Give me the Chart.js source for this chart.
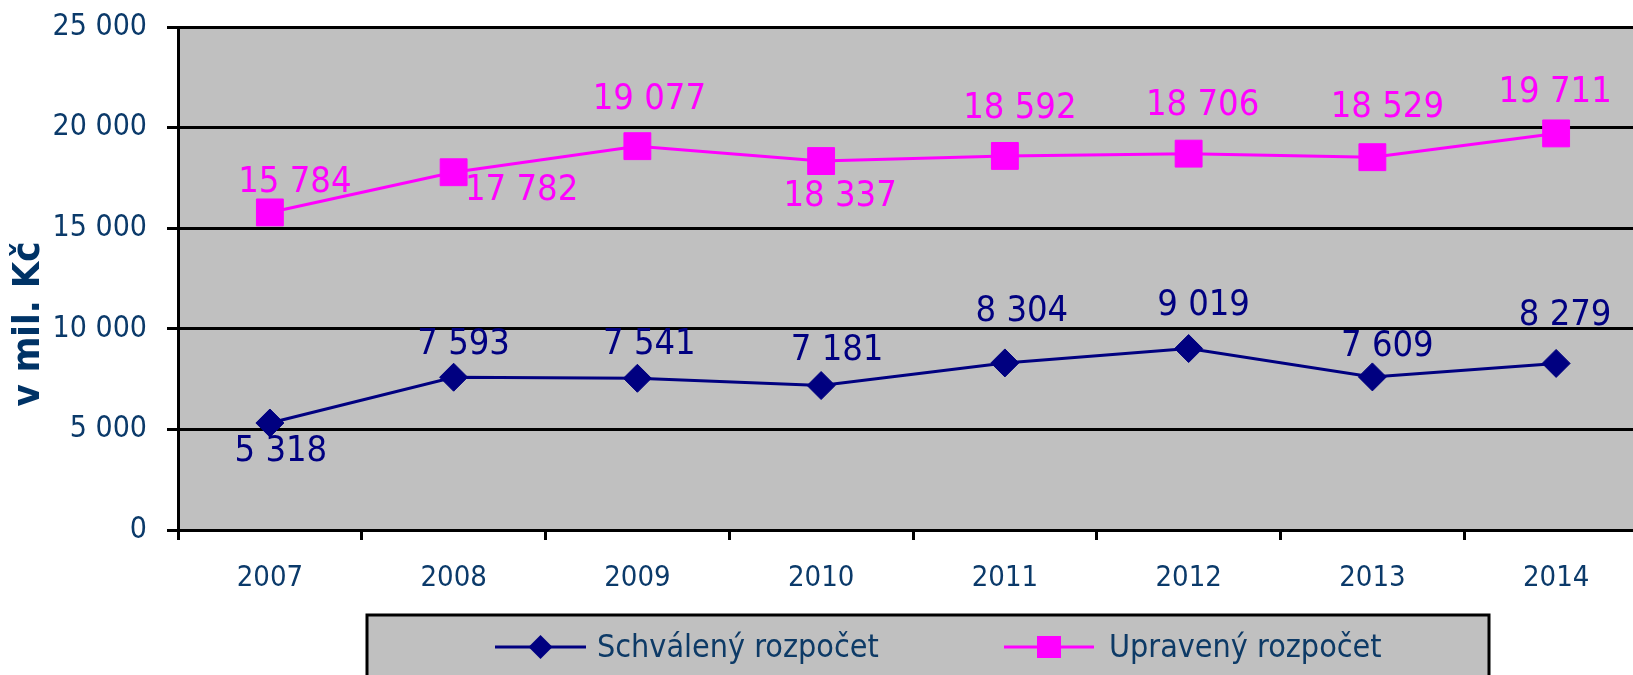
<!DOCTYPE html>
<html><head><meta charset="utf-8">
<script src="https://cdn.jsdelivr.net/npm/chart.js@4.4.1/dist/chart.umd.min.js"></script>
<style>html,body{margin:0;padding:0;overflow:hidden;background:#fff}#wrap{position:relative;width:1668px;height:675px}</style>
</head><body><div id="wrap"><canvas id="c"></canvas></div>
<script>
// ---- data ----
const years = ['2007', '2008', '2009', '2010', '2011', '2012', '2013', '2014'];
const schvaleny = [5318, 7593, 7541, 7181, 8304, 9019, 7609, 8279];
const upraveny = [15784, 17782, 19077, 18337, 18592, 18706, 18529, 19711];
const seriesNames = ['Schválený rozpočet', 'Upravený rozpočet'];
const yTicks = [0, 5000, 10000, 15000, 20000, 25000];
const axisTitle = 'v mil. Kč';

// ---- style ----
const FONT = '"DejaVu Sans Condensed", "Liberation Sans", sans-serif';
const TEXT = '#0b3a6a';
const BLUE = '#000080';
const PINK = '#FF00FF';
const labelOffsets = [
  [[11, 29], [10, -33], [12, -34], [16, -35], [17, -51], [15, -43], [15, -30], [9, -48]],
  [[25, -30], [68, 18], [12, -47], [19, 36], [15, -47], [14, -48], [15, -50], [-1, -41]]
];
const fmt = v => String(v).replace(/\B(?=(\d{3})+(?!\d))/g, ' ');

const bgPlugin = {
  id: 'bg',
  beforeDraw(chart) {
    const { ctx, chartArea: a } = chart;
    ctx.save();
    ctx.fillStyle = '#C0C0C0';
    ctx.fillRect(a.left, a.top, a.right - a.left, a.bottom - a.top);
    ctx.restore();
  }
};

const labelPlugin = {
  id: 'vals',
  afterDatasetsDraw(chart) {
    const ctx = chart.ctx;
    ctx.save();
    ctx.font = '36px ' + FONT;
    ctx.textAlign = 'center';
    ctx.textBaseline = 'middle';
    chart.data.datasets.forEach((ds, di) => {
      const meta = chart.getDatasetMeta(di);
      ctx.fillStyle = ds.borderColor;
      meta.data.forEach((pt, i) => {
        const o = labelOffsets[di][i];
        ctx.fillText(fmt(ds.data[i]), pt.x + o[0], pt.y + o[1]);
      });
    });
    ctx.restore();
  }
};

const extrasPlugin = {
  id: 'extras',
  afterDraw(chart) {
    const ctx = chart.ctx;
    ctx.save();
    // y axis title
    ctx.translate(29, 324);
    ctx.rotate(-Math.PI / 2);
    ctx.font = 'bold 38px ' + FONT;
    ctx.fillStyle = '#003366';
    ctx.textAlign = 'center';
    ctx.textBaseline = 'middle';
    ctx.fillText(axisTitle, 0, 0);
    ctx.restore();

    // legend box
    ctx.save();
    ctx.fillStyle = '#C0C0C0';
    ctx.fillRect(367, 615, 1122, 100);
    ctx.strokeStyle = '#000';
    ctx.lineWidth = 3;
    ctx.strokeRect(367, 615, 1122, 100);
    const items = [
      { x0: 495, x1: 586, tx: 597 },
      { x0: 1004, x1: 1094, tx: 1109 }
    ];
    const y = 647;
    chart.data.datasets.forEach((ds, di) => {
      const it = items[di];
      ctx.strokeStyle = ds.borderColor;
      ctx.fillStyle = ds.borderColor;
      ctx.lineWidth = 3;
      ctx.beginPath();
      ctx.moveTo(it.x0, y);
      ctx.lineTo(it.x1, y);
      ctx.stroke();
      const cx = (it.x0 + it.x1) / 2;
      if (ds.pointStyle === 'rectRot') {
        ctx.beginPath();
        ctx.moveTo(cx - 12, y); ctx.lineTo(cx, y - 12); ctx.lineTo(cx + 12, y); ctx.lineTo(cx, y + 12);
        ctx.closePath(); ctx.fill();
      } else {
        ctx.fillRect(cx - 12, y - 11, 24, 22);
      }
      ctx.fillStyle = '#0d3a66';
      ctx.font = '32px ' + FONT;
      ctx.textAlign = 'left';
      ctx.textBaseline = 'middle';
      ctx.fillText(ds.label, it.tx, y + 2);
    });
    ctx.restore();
  }
};

new Chart(document.getElementById('c'), {
  type: 'line',
  data: {
    labels: years,
    datasets: [
      { label: seriesNames[0], data: schvaleny, borderColor: BLUE, backgroundColor: BLUE,
        borderWidth: 3, pointStyle: 'rectRot', pointRadius: 14, pointBorderWidth: 1, tension: 0 },
      { label: seriesNames[1], data: upraveny, borderColor: PINK, backgroundColor: PINK,
        borderWidth: 3, pointStyle: 'rect', pointRadius: 19, pointBorderWidth: 1, tension: 0 }
    ]
  },
  options: {
    responsive: true,
    maintainAspectRatio: false,
    animation: false,
    layout: { padding: { top: 27, right: 12, bottom: 0, left: 0 } },
    plugins: { legend: { display: false }, tooltip: { enabled: false } },
    scales: {
      x: {
        type: 'category',
        offset: true,
        grid: { offset: true, drawOnChartArea: false, drawTicks: true, tickLength: 10, color: '#000', lineWidth: 3 },
        border: { color: '#000', width: 3 },
        ticks: { color: TEXT, font: { family: FONT, size: 29 }, padding: 21, maxRotation: 0 },
        afterFit(s) { s.height = 145; }
      },
      y: {
        min: yTicks[0],
        max: yTicks[yTicks.length - 1],
        grid: { color: '#000', lineWidth: 3, drawTicks: true, tickLength: 11 },
        border: { color: '#000', width: 3 },
        ticks: { stepSize: yTicks[1] - yTicks[0], color: TEXT, font: { family: FONT, size: 30 }, padding: 20,
          callback: v => fmt(v) },
        afterFit(s) { s.width = 178; s.paddingTop = 0; s.paddingBottom = 0; }
      }
    }
  },
  plugins: [bgPlugin, labelPlugin, extrasPlugin]
});
</script>
</body></html>
